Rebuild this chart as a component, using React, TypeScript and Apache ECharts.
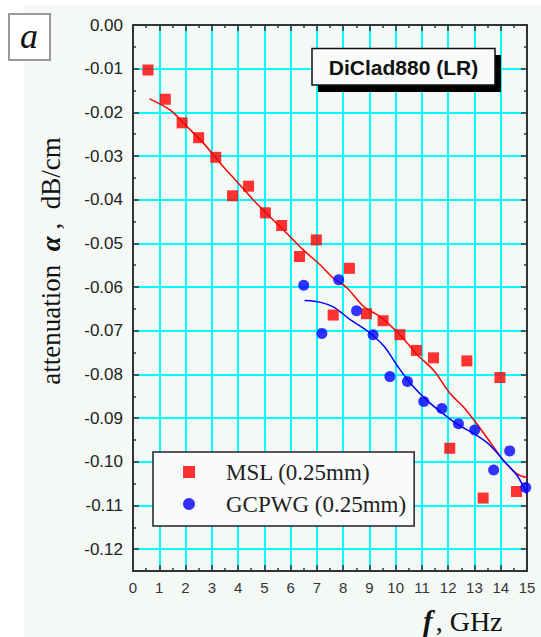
import React, { useEffect, useRef } from 'react';
import * as echarts from 'echarts';

// ---- data ----
const seriesNames = ['MSL (0.25mm)', 'GCPWG (0.25mm)'];

const mslFreq = [0.57, 1.23, 1.87, 2.5, 3.15, 3.79, 4.4, 5.04, 5.66, 6.34, 6.98, 7.62, 8.24, 8.89, 9.52, 10.16, 10.79, 11.44, 12.06, 12.71, 13.33, 13.97, 14.6];
const mslAtten = [-0.0103, -0.017, -0.0224, -0.0258, -0.0303, -0.0391, -0.0369, -0.043, -0.0459, -0.053, -0.0492, -0.0664, -0.0557, -0.0661, -0.0677, -0.0709, -0.0745, -0.0762, -0.0969, -0.0769, -0.1083, -0.0807, -0.1068];

const gcpwgFreq = [6.5, 7.19, 7.83, 8.51, 9.14, 9.78, 10.45, 11.07, 11.76, 12.39, 13.01, 13.73, 14.34, 14.95];
const gcpwgAtten = [-0.0596, -0.0706, -0.0583, -0.0654, -0.0709, -0.0805, -0.0816, -0.0862, -0.0878, -0.0913, -0.0927, -0.1019, -0.0975, -0.1059];

const mslFitFreq = [0.63, 1.42, 2.06, 2.69, 3.33, 3.96, 4.59, 5.23, 5.87, 6.5, 7.14, 7.64, 8.15, 8.79, 9.42, 10.06, 10.44, 10.82, 11.45, 12.09, 12.59, 13.1, 13.61, 14.12, 14.63, 15.0];
const mslFitAtten = [-0.0169, -0.0195, -0.0233, -0.0271, -0.0317, -0.0359, -0.0401, -0.044, -0.0478, -0.0516, -0.055, -0.058, -0.0602, -0.0645, -0.0668, -0.0703, -0.0728, -0.0755, -0.0791, -0.0845, -0.0875, -0.0914, -0.0956, -0.0998, -0.1028, -0.1036];

const gcpwgFitFreq = [6.53, 7.14, 7.64, 8.28, 8.91, 9.55, 10.06, 10.56, 11.2, 11.83, 12.34, 13.1, 13.61, 14.12, 14.63, 15.0];
const gcpwgFitAtten = [-0.0631, -0.0635, -0.0646, -0.0675, -0.07, -0.0735, -0.078, -0.082, -0.086, -0.0891, -0.0914, -0.094, -0.0963, -0.0998, -0.1032, -0.1074];

const xMin = 0;
const xMax = 15;
const xStep = 1;
const yMin = -0.125;
const yMax = 0;

const titleText = 'DiClad880 (LR)';
const panelLetter = 'a';

const zip = (xs: number[], ys: number[]) => xs.map((x, i) => [x, ys[i]]);

const AXIS_COLOR = '#333';
const GRID_COLOR = '#00ffff';
const BG = '#f5f9f6';

export default function App() {
  const ref = useRef<HTMLDivElement>(null);

  useEffect(() => {
    if (!ref.current) return;
    const chart = echarts.init(ref.current, null, { renderer: 'svg' });

    const tickCommon = {
      axisLine: { show: true, onZero: false, lineStyle: { color: AXIS_COLOR, width: 2 } },
      axisTick: { show: true, inside: true, length: 6, lineStyle: { color: AXIS_COLOR, width: 1.5 } },
      minorTick: { show: true, splitNumber: 2, length: 3, lineStyle: { color: AXIS_COLOR, width: 1.5 } },
    };

    const yFmt = (v: number) => {
      const k = v * 100;
      return Math.abs(k - Math.round(k)) < 1e-6 ? v.toFixed(2) : '';
    };

    const option: any = {
      animation: false,
      backgroundColor: 'transparent',
      grid: { left: 133, right: 14, top: 25, bottom: 66, containLabel: false },
      xAxis: [
        {
          type: 'value', min: xMin, max: xMax, interval: xStep, position: 'bottom',
          ...tickCommon,
          axisLabel: { show: true, margin: 9, fontSize: 15, color: '#333', fontFamily: 'Liberation Sans', showMinLabel: true, showMaxLabel: true },
          splitLine: { show: true, showMinLine: false, showMaxLine: false, lineStyle: { color: GRID_COLOR, width: 2 } },
        },
        {
          type: 'value', min: xMin, max: xMax, interval: xStep, position: 'top',
          ...tickCommon,
          axisLabel: { show: false },
          splitLine: { show: false },
        },
      ],
      yAxis: [
        {
          type: 'value', min: yMin, max: yMax, splitNumber: 12, position: 'left',
          ...tickCommon,
          axisLabel: { show: true, margin: 10, fontSize: 17, color: '#222', fontFamily: 'Liberation Sans', formatter: yFmt, showMinLabel: true, showMaxLabel: true },
          splitLine: { show: true, showMinLine: false, showMaxLine: false, lineStyle: { color: GRID_COLOR, width: 2 } },
        },
        {
          type: 'value', min: yMin, max: yMax, splitNumber: 12, position: 'right',
          ...tickCommon,
          axisLabel: { show: false },
          splitLine: { show: false },
        },
      ],
      legend: {
        show: true,
        data: seriesNames,
        orient: 'vertical',
        left: 153,
        top: 452,
        padding: [8, 8, 10, 30],
        itemGap: 8,
        itemWidth: 12,
        itemHeight: 12,
        backgroundColor: '#f8fbf9',
        borderColor: '#222',
        borderWidth: 1.5,
        borderRadius: 0,
        textStyle: { fontFamily: 'Liberation Serif', fontSize: 23, color: '#222', lineHeight: 24, padding: [0, 0, 0, 26] },
      },
      series: [
        {
          name: 'MSL fit', type: 'line', data: zip(mslFitFreq, mslFitAtten), showSymbol: false, symbol: 'none',
          smooth: 0.3, lineStyle: { color: '#ff0000', width: 1.5 }, itemStyle: { color: '#ff0000' }, z: 2,
        },
        {
          name: 'GCPWG fit', type: 'line', data: zip(gcpwgFitFreq, gcpwgFitAtten), showSymbol: false, symbol: 'none',
          smooth: 0.3, lineStyle: { color: '#0000ff', width: 1.5 }, itemStyle: { color: '#0000ff' }, z: 2,
        },
        {
          name: seriesNames[0], type: 'scatter', data: zip(mslFreq, mslAtten), symbol: 'rect', symbolSize: 11,
          itemStyle: { color: '#ff0000' }, z: 3,
        },
        {
          name: seriesNames[1], type: 'scatter', data: zip(gcpwgFreq, gcpwgAtten), symbol: 'circle', symbolSize: 11,
          itemStyle: { color: '#0000ff' }, z: 3,
        },
      ],
      graphic: [
        // panel letter box
        {
          type: 'rect', left: 8, top: 13, z: 10,
          shape: { width: 41, height: 46 },
          style: { fill: '#ffffff', stroke: '#9a9a9a', lineWidth: 2 },
        },
        {
          type: 'text', x: 29, y: 36, z: 11,
          style: { text: panelLetter, font: 'italic 36px "Liberation Serif"', fill: '#111', align: 'center', verticalAlign: 'middle' },
        },
        // title box with shadow
        {
          type: 'rect', x: 318, y: 55, z: 10,
          shape: { width: 183, height: 37 },
          style: { fill: '#000000' },
        },
        {
          type: 'rect', x: 312, y: 48.5, z: 11,
          shape: { width: 183, height: 36.5 },
          style: { fill: '#f8fbf9', stroke: '#111', lineWidth: 1.5 },
        },
        {
          type: 'text', x: 403.5, y: 67, z: 12,
          style: { text: titleText, font: 'bold 21px "Liberation Sans"', fill: '#111', align: 'center', verticalAlign: 'middle' },
        },
        // y axis title
        {
          type: 'text', x: 51, y: 261, rotation: Math.PI / 2, z: 10,
          style: {
            text: '{r|attenuation  }{b|α}{r| ,  dB/cm}',
            align: 'center', verticalAlign: 'middle',
            rich: {
              r: { font: '27px "Liberation Serif"', fill: '#111' },
              b: { font: 'italic bold 27px "Liberation Serif"', fill: '#111' },
            },
          },
        },
        // x axis title
        {
          type: 'text', x: 423, y: 621, z: 10,
          style: {
            text: '{b|f}{r|, GHz}',
            align: 'left', verticalAlign: 'middle',
            rich: {
              r: { font: '28px "Liberation Serif"', fill: '#111' },
              b: { font: 'italic bold 29px "Liberation Serif"', fill: '#111', padding: [0, 3, 0, 0] },
            },
          },
        },
      ],
    };

    chart.setOption(option);
    return () => chart.dispose();
  }, []);

  return (
    <div style={{ position: 'absolute', left: 0, top: 0, width: 541, height: 637, background: '#ffffff', overflow: 'hidden' }}>
      <div style={{ position: 'absolute', left: 24, top: 5, width: 517, height: 632, background: BG }} />
      <div ref={ref} style={{ position: 'absolute', left: 0, top: 0, width: 541, height: 637 }} />
    </div>
  );
}
